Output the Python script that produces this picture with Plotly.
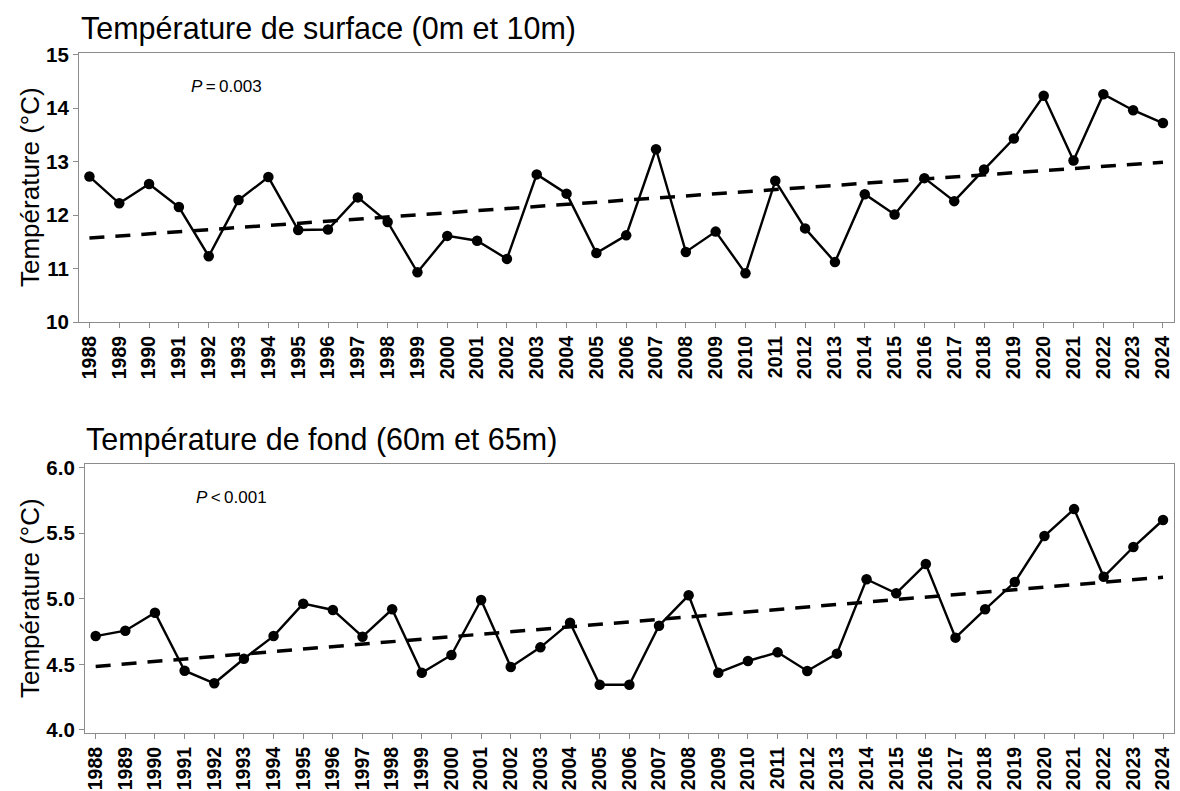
import numpy as np
import plotly.graph_objects as go

years = list(range(1988, 2025))

surface_temp = [12.72, 12.22, 12.58, 12.15, 11.23, 12.28, 12.71, 11.72, 11.73, 12.33,
                11.87, 10.93, 11.61, 11.52, 11.18, 12.76, 12.40, 11.29, 11.62, 13.23,
                11.31, 11.69, 10.91, 12.64, 11.75, 11.12, 12.39, 12.01, 12.69, 12.26,
                12.85, 13.43, 14.23, 13.02, 14.26, 13.96, 13.72]

bottom_temp = [4.716, 4.757, 4.894, 4.452, 4.356, 4.543, 4.716, 4.963, 4.915, 4.711,
               4.920, 4.437, 4.572, 4.991, 4.480, 4.630, 4.818, 4.345, 4.345, 4.795,
               5.027, 4.437, 4.526, 4.592, 4.450, 4.582, 5.149, 5.042, 5.265, 4.704,
               4.920, 5.128, 5.479, 5.684, 5.168, 5.395, 5.601]

titles = ["Température de surface (0m et 10m)", "Température de fond (60m et 65m)"]
p_labels = ["<i>P</i>\u2009=\u20090.003", "<i>P</i>\u2009<\u20090.001"]
y_title = "Température (°C)"
surface_ticks = [10, 11, 12, 13, 14, 15]
bottom_ticks = [4.0, 4.5, 5.0, 5.5, 6.0]

W, H = 1180, 791
FONT = "Liberation Sans"
GREY = "#8c8c8c"


def px(x):
    return x / W


def py(y):
    return 1 - y / H


def trend(x, y):
    slope, intercept = np.polyfit(x, y, 1)
    xs = np.array([x[0], x[-1]])
    return xs, slope * xs + intercept


fig = go.Figure()

panels = [
    dict(y=surface_temp, xa="x", ya="y"),
    dict(y=bottom_temp, xa="x2", ya="y2"),
]

for p in panels:
    tx, ty = trend(np.array(years, float), np.array(p["y"], float))
    fig.add_trace(go.Scatter(
        x=tx, y=ty, mode="lines", xaxis=p["xa"], yaxis=p["ya"],
        line=dict(color="black", width=3.5, dash="15px,11px"),
        hoverinfo="skip", showlegend=False))
    fig.add_trace(go.Scatter(
        x=years, y=p["y"], mode="lines+markers", xaxis=p["xa"], yaxis=p["ya"],
        line=dict(color="black", width=2.4),
        marker=dict(color="black", size=10.5),
        showlegend=False))

axis_common = dict(
    showline=True, mirror=True, linecolor=GREY, linewidth=1.2,
    ticks="outside", ticklen=5, tickcolor=GREY, tickwidth=1.2,
    showgrid=False, zeroline=False, automargin=False,
)

xaxis_common = dict(
    axis_common, tickmode="array", tickvals=years, ticktext=[str(y) for y in years],
    tickangle=-90, tickfont=dict(family=FONT, size=19.5, color="black", weight="bold"),
)

ytickfont = dict(family=FONT, size=20.5, color="black", weight="bold")

fig.update_layout(
    width=W, height=H, autosize=False,
    margin=dict(l=0, r=0, t=0, b=0),
    paper_bgcolor="white", plot_bgcolor="white",
    font=dict(family=FONT, color="black"),
    xaxis=dict(xaxis_common, domain=[px(79), px(1174)], range=[1987.65, 2024.37], anchor="y"),
    yaxis=dict(axis_common, domain=[py(322), py(53)], range=[10.0, 15.03],
               tickvals=surface_ticks, ticktext=[str(t) for t in surface_ticks],
               tickfont=ytickfont, anchor="x"),
    xaxis2=dict(xaxis_common, domain=[px(85), px(1174)], range=[1987.64, 2024.37], anchor="y2"),
    yaxis2=dict(axis_common, domain=[py(733), py(464)], range=[3.977, 6.028],
                tickvals=bottom_ticks, ticktext=[f"{t:.1f}" for t in bottom_ticks],
                tickfont=ytickfont, anchor="x2"),
)

annotations = []
# panel titles
for title, x0, y0 in [(titles[0], 79, 29), (titles[1], 84, 439)]:
    annotations.append(dict(
        text=title, x=px(x0), y=py(y0), xref="paper", yref="paper",
        xanchor="left", yanchor="middle", showarrow=False,
        font=dict(family=FONT, size=30.5, color="black")))
# y-axis titles
for yc in [187, 598]:
    annotations.append(dict(
        text=y_title, x=px(30), y=py(yc), xref="paper", yref="paper",
        xanchor="center", yanchor="middle", textangle=-90, showarrow=False,
        font=dict(family=FONT, size=26, color="black")))
# significance labels
for lab, x0, y0 in [(p_labels[0], 189, 87), (p_labels[1], 194, 497)]:
    annotations.append(dict(
        text=lab, x=px(x0), y=py(y0), xref="paper", yref="paper",
        xanchor="left", yanchor="middle", showarrow=False,
        font=dict(family=FONT, size=17, color="black")))

fig.update_layout(annotations=annotations)

fig.write_html("out.html")
